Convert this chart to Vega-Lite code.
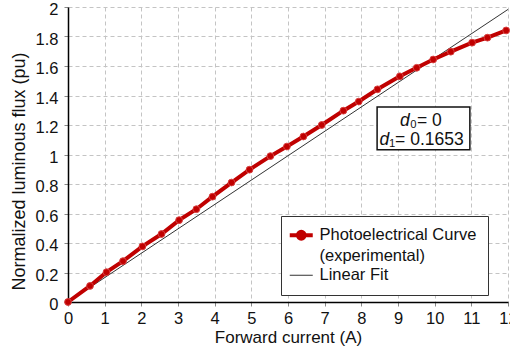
{
  "$schema": "https://vega.github.io/schema/vega-lite/v6.json",
  "width": 440,
  "height": 295,
  "autosize": {"type": "none"},
  "padding": {"left": 68, "top": 7, "right": 2, "bottom": 45},
  "background": "white",
  "config": {
    "font": "Liberation Sans",
    "view": {"stroke": null},
    "axis": {
      "domainColor": "#000000",
      "domainWidth": 1.5,
      "tickColor": "#888888",
      "tickSize": 4,
      "gridColor": "#c4c4c4",
      "gridDash": [4, 3],
      "gridWidth": 1,
      "labelFont": "Liberation Sans",
      "labelFontSize": 16.5,
      "labelColor": "#111111",
      "labelOverlap": false,
      "titleFont": "Liberation Sans",
      "titleFontWeight": "normal",
      "titleColor": "#111111"
    }
  },
  "datasets": {
    "measured": [
      {"current": 0, "flux": 0, "series": "Photoelectrical Curve (experimental)"},
      {"current": 0.6, "flux": 0.109, "series": "Photoelectrical Curve (experimental)"},
      {"current": 1.05, "flux": 0.202, "series": "Photoelectrical Curve (experimental)"},
      {"current": 1.5, "flux": 0.277, "series": "Photoelectrical Curve (experimental)"},
      {"current": 2.03, "flux": 0.377, "series": "Photoelectrical Curve (experimental)"},
      {"current": 2.55, "flux": 0.461, "series": "Photoelectrical Curve (experimental)"},
      {"current": 3.03, "flux": 0.555, "series": "Photoelectrical Curve (experimental)"},
      {"current": 3.5, "flux": 0.629, "series": "Photoelectrical Curve (experimental)"},
      {"current": 3.94, "flux": 0.714, "series": "Photoelectrical Curve (experimental)"},
      {"current": 4.46, "flux": 0.81, "series": "Photoelectrical Curve (experimental)"},
      {"current": 4.95, "flux": 0.897, "series": "Photoelectrical Curve (experimental)"},
      {"current": 5.52, "flux": 0.989, "series": "Photoelectrical Curve (experimental)"},
      {"current": 5.97, "flux": 1.054, "series": "Photoelectrical Curve (experimental)"},
      {"current": 6.42, "flux": 1.122, "series": "Photoelectrical Curve (experimental)"},
      {"current": 6.92, "flux": 1.2, "series": "Photoelectrical Curve (experimental)"},
      {"current": 7.51, "flux": 1.297, "series": "Photoelectrical Curve (experimental)"},
      {"current": 7.93, "flux": 1.359, "series": "Photoelectrical Curve (experimental)"},
      {"current": 8.44, "flux": 1.442, "series": "Photoelectrical Curve (experimental)"},
      {"current": 9.05, "flux": 1.53, "series": "Photoelectrical Curve (experimental)"},
      {"current": 9.51, "flux": 1.588, "series": "Photoelectrical Curve (experimental)"},
      {"current": 9.96, "flux": 1.644, "series": "Photoelectrical Curve (experimental)"},
      {"current": 10.44, "flux": 1.697, "series": "Photoelectrical Curve (experimental)"},
      {"current": 11.02, "flux": 1.758, "series": "Photoelectrical Curve (experimental)"},
      {"current": 11.44, "flux": 1.792, "series": "Photoelectrical Curve (experimental)"},
      {"current": 11.95, "flux": 1.841, "series": "Photoelectrical Curve (experimental)"}
    ],
    "fit": [
      {"current": 0, "flux": 0, "series": "Linear Fit"},
      {"current": 12, "flux": 1.9836, "series": "Linear Fit"}
    ],
    "coefficients": [
      {"current": 9.32, "flux": 1.229, "symbol": "d", "rest": "₀= 0"},
      {"current": 8.76, "flux": 1.1, "symbol": "d", "rest": "₁= 0.1653"}
    ],
    "box": [
      {"current": 8.43, "current2": 10.96, "flux": 1.032, "flux2": 1.322}
    ]
  },
  "encoding": {
    "x": {
      "field": "current", "type": "quantitative",
      "scale": {"domain": [0, 12], "nice": false},
      "axis": {"title": "Forward current (A)", "values": [0,1,2,3,4,5,6,7,8,9,10,11,12], "format": "~g", "labelOverlap": false, "labelPadding": 4, "titlePadding": 3, "titleFontSize": 17, "labelFlush": false}
    },
    "y": {
      "field": "flux", "type": "quantitative",
      "scale": {"domain": [0, 2], "nice": false},
      "axis": {"title": "Normalized luminous flux (pu)", "values": [0,0.2,0.4,0.6,0.8,1,1.2,1.4,1.6,1.8,2], "format": "~g", "labelOverlap": false, "labelOffset": 2.5, "labelPadding": 6, "titlePadding": 7, "titleFontSize": 18, "titleY": 164, "labelFlush": false}
    }
  },
  "layer": [
    {
      "data": {"name": "fit"},
      "mark": {"type": "line", "strokeWidth": 1},
      "encoding": {
        "color": {
          "field": "series", "type": "nominal",
          "scale": {"domain": ["Photoelectrical Curve (experimental)", "Linear Fit"], "range": ["#c00000", "#333333"]},
          "legend": {
            "title": null,
            "orient": "none",
            "legendX": 213,
            "legendY": 209,
            "direction": "vertical",
            "fillColor": "white",
            "strokeColor": "#333333",
            "padding": 11,
            "labelFont": "Liberation Sans",
            "labelFontSize": 16.5,
            "labelColor": "#111111",
            "labelLimit": 300,
            "labelOffset": 10,
            "symbolOffset": 1,
            "rowPadding": 2,
            "symbolSize": 529,
            "symbolType": "stroke",
            "labelExpr": "datum.value == 'Linear Fit' ? 'Linear Fit' : ['Photoelectrical Curve', '(experimental)']",
            "encode": {
              "labels": {
                "update": {"lineHeight": {"value": 21}}
              },
              "symbols": {
                "update": {
                  "shape": {"signal": "datum.value == 'Linear Fit' ? 'M-1,0H1' : 'M-1,0H1M-0.3,0A0.3,0.3 0 1,1 0.3,0A0.3,0.3 0 1,1 -0.3,0Z'"},
                  "strokeWidth": {"signal": "datum.value == 'Linear Fit' ? 1 : 4"},
                  "fill": {"signal": "datum.value == 'Linear Fit' ? 'transparent' : '#c00000'"},
                  "stroke": {"signal": "datum.value == 'Linear Fit' ? '#333333' : '#c00000'"}
                }
              }
            }
          }
        }
      }
    },
    {
      "data": {"name": "measured"},
      "mark": {"type": "line", "strokeWidth": 4, "point": {"filled": true, "size": 46, "stroke": "#d84040", "strokeWidth": 1}},
      "encoding": {
        "color": {"field": "series", "type": "nominal"}
      }
    },
    {
      "data": {"name": "box"},
      "mark": {"type": "rect", "fill": "white", "stroke": "#111111", "strokeWidth": 1.5},
      "encoding": {
        "x2": {"field": "current2"},
        "y2": {"field": "flux2"}
      }
    },
    {
      "data": {"name": "coefficients"},
      "mark": {"type": "text", "align": "right", "baseline": "middle", "fontStyle": "italic", "fontSize": 17.5, "color": "#111111"},
      "encoding": {
        "text": {"field": "symbol"}
      }
    },
    {
      "data": {"name": "coefficients"},
      "mark": {"type": "text", "align": "left", "baseline": "middle", "fontSize": 17.5, "color": "#111111"},
      "encoding": {
        "text": {"field": "rest"}
      }
    }
  ]
}
